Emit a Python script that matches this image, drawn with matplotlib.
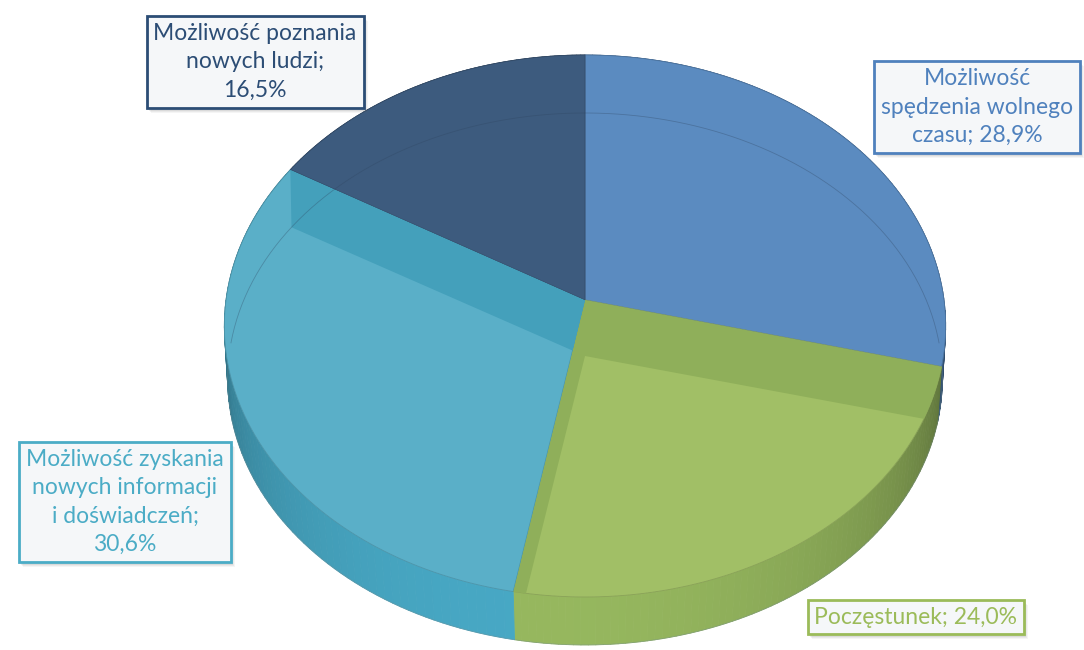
import numpy as np
import matplotlib.pyplot as plt
from matplotlib.patches import Polygon, Rectangle
from matplotlib.collections import PolyCollection
from matplotlib.colors import to_rgb

plt.rcParams['font.family'] = ['Lato', 'DejaVu Sans']

# slices, clockwise from 12 o'clock
names = ['Możliwość\nspędzenia wolnego\nczasu', 'Poczęstunek',
         'Możliwość zyskania\nnowych informacji\ni doświadczeń', 'Możliwość poznania\nnowych ludzi']
shares = [28.9, 24.0, 30.6, 16.5]
seps = ['; ', '; ', ';\n', ';\n']
top_colors = ['#5B8BC0', '#A1BF66', '#5AAFC8', '#3D5B7E']
wall_colors = ['#4F7DB0', '#8FAF5A', '#44A0BB', '#34506F']
text_colors = ['#4F81BD', '#9BBB59', '#4BACC6', '#2C4D75']
label_pos = [(977, 107), (916, 617), (125, 502), (255, 62)]

# perspective of the top and bottom face (pixel units)
CX, CY = 585, 300
FACES = {0: (359, 268.5, 0.0959, 0.0), 1: (356, 264.0, 0.0864, 56.0)}


def project(theta, r, level):
    a, b, k, dy = FACES[level]
    X = r * np.sin(theta)
    Y = r * np.cos(theta)
    d = 1 + k * Y
    return np.column_stack([CX + a * X / d, CY + dy - b * Y / d])


def shade(color, f):
    return tuple(np.clip(np.array(to_rgb(color)) * f, 0, 1))


fig = plt.figure(figsize=(10.84, 6.5), dpi=100)
ax = fig.add_axes([0, 0, 1, 1])
ax.set_xlim(0, 1084)
ax.set_ylim(650, 0)
ax.axis('off')

bounds = np.concatenate([[0], np.cumsum(shares)]) / sum(shares) * 2 * np.pi

# outer wall, darker towards the sides
quads, qcols = [], []
for i in range(len(shares)):
    th = np.linspace(bounds[i], bounds[i + 1], 80)
    top = project(th, 1, 0)
    bot = project(th, 1, 1)
    for j in range(len(th) - 1):
        quads.append([top[j], top[j + 1], bot[j + 1], bot[j]])
        m = 0.5 * (th[j] + th[j + 1])
        f = 0.55 + 0.42 * max(0.0, -np.cos(m - np.radians(8))) ** 0.8
        qcols.append(shade(wall_colors[i], f * 1.08))
ax.add_collection(PolyCollection(quads, facecolors=qcols, edgecolors=qcols, linewidths=0.6, zorder=1))

th = np.linspace(np.pi / 2, 3 * np.pi / 2, 200)
b = project(th, 1, 1)
ax.plot(b[:, 0], b[:, 1], color='#6F8A8F', lw=0.5, alpha=0.5, zorder=2)

# top faces with the radial walls showing through
for i in range(len(shares)):
    th = np.linspace(bounds[i], bounds[i + 1], 120)
    pts = np.vstack([[CX, CY], project(th, 1, 0)])
    face = Polygon(pts, closed=True, facecolor=top_colors[i],
                   edgecolor=shade(top_colors[i], 0.85), lw=0.6, zorder=3)
    ax.add_patch(face)
    for t in (bounds[i], bounds[i + 1]):
        tt = np.array([t])
        c0, r0 = project(tt, 0, 0)[0], project(tt, 1, 0)[0]
        c1, r1 = project(tt, 0, 1)[0], project(tt, 1, 1)[0]
        wall = Polygon([c0, r0, r1, c1], closed=True,
                       facecolor=wall_colors[i], edgecolor='none', zorder=4)
        ax.add_patch(wall)
        wall.set_clip_path(face)

# back part of the bottom rim, seen through the top
th = np.linspace(-np.pi / 2 + 0.05, np.pi / 2 - 0.05, 200)
b = project(th, 1, 1)
ax.plot(b[:, 0], b[:, 1], color='#2F4560', lw=0.6, alpha=0.35, zorder=5)

# data labels
texts = []
for i in range(len(shares)):
    txt = names[i] + seps[i] + f'{shares[i]:.1f}'.replace('.', ',') + '%'
    x, y = label_pos[i]
    t = ax.text(x, y, txt, ha='center', va='center', fontsize=16.5, color=text_colors[i],
                linespacing=1.42, zorder=8,
                bbox=dict(boxstyle='square,pad=0.3', facecolor='#F5F7F9',
                          edgecolor=text_colors[i], linewidth=2))
    texts.append(t)

# soft drop shadow under each label box
fig.canvas.draw()
inv = ax.transData.inverted()
for t in texts:
    ext = t.get_bbox_patch().get_window_extent()
    (x0, y0), (x1, y1) = inv.transform([[ext.x0, ext.y0], [ext.x1, ext.y1]])
    xl, yt = min(x0, x1), min(y0, y1)
    w, h = abs(x1 - x0), abs(y1 - y0)
    for k, a in enumerate([0.10, 0.08, 0.06]):
        ax.add_patch(Rectangle((xl + 2 + k, yt + 3 + k), w, h, facecolor='#606060',
                               edgecolor='none', alpha=a, zorder=7))

fig.savefig('out.png', dpi=100)
